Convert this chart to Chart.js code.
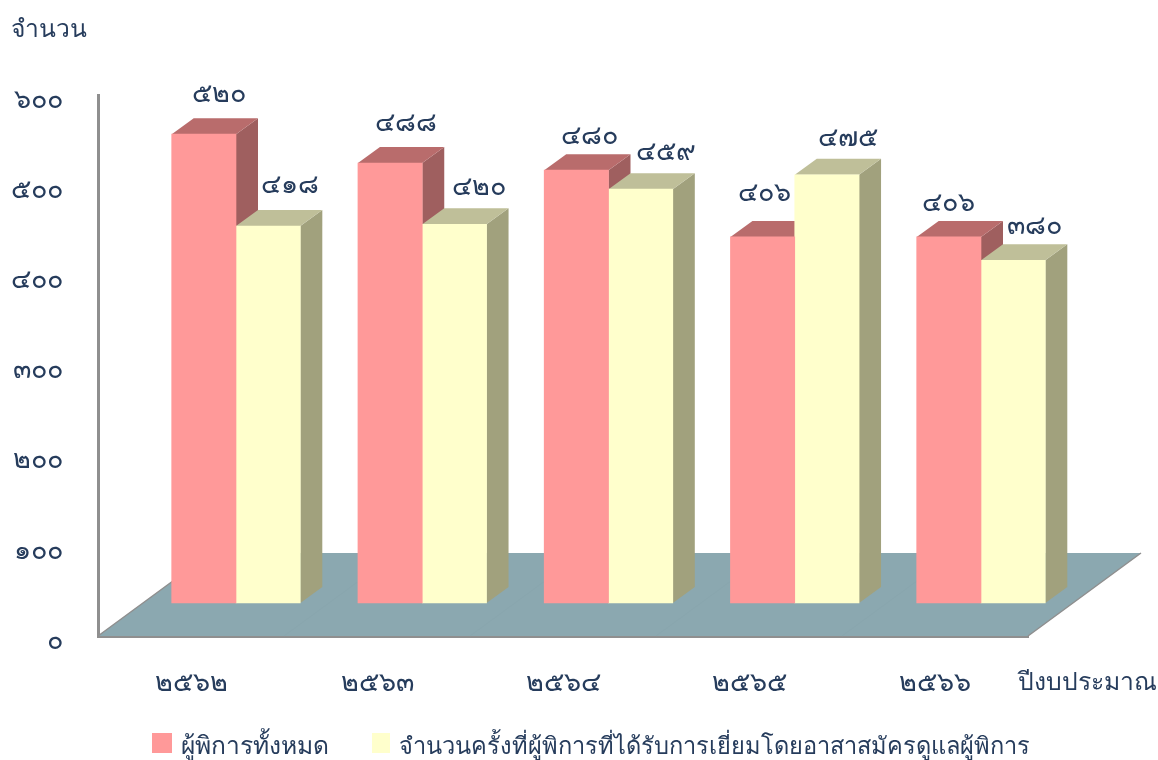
<!DOCTYPE html>
<html><head><meta charset="utf-8">
<style>html,body{margin:0;padding:0;background:#fff}#w{position:relative;width:1158px;height:760px}</style>
<script src="https://cdn.jsdelivr.net/npm/chart.js@4"></script></head>
<body><div id="w"><canvas id="c" width="1158" height="760"></canvas></div>
<script>
const categories = ['๒๕๖๒','๒๕๖๓','๒๕๖๔','๒๕๖๕','๒๕๖๖'];
const seriesNames = ['ผู้พิการทั้งหมด','จำนวนครั้งที่ผู้พิการที่ได้รับการเยี่ยมโดยอาสาสมัครดูแลผู้พิการ'];
const totalDisabled = [520,488,480,406,406];
const visitCount = [418,420,459,475,380];
const totalLabels = ['๕๒๐','๔๘๘','๔๘๐','๔๐๖','๔๐๖'];
const visitLabels = ['๔๑๘','๔๒๐','๔๕๙','๔๗๕','๓๘๐'];
const yTickLabels = ['๐','๑๐๐','๒๐๐','๓๐๐','๔๐๐','๕๐๐','๖๐๐'];
const yAxisTitle = 'จำนวน';
const xAxisTitle = 'ปีงบประมาณ';

const FONT = '"Noto Sans","DejaVu Sans",sans-serif';
const INK = '#263c5c';
const DX = 22, DY = 16;               // bar depth
const FX = 113, FY = 83;              // floor depth
const PXU = 541/600;                  // px per unit on the axis
const SHIFT = 33/PXU;                 // bars sit further back than the axis plane
const STEP = 186.25;
const XB0 = -138/STEP;
const nudges = [
  [[15,-40],[16,-40],[13,-34],[2,-44],[0,-34]],
  [[22,-41],[25,-37],[25,-37],[21,-36],[21,-34]]
];
const shades = [{top:'#b96c6c',side:'#9f5f5f',front:'#ff9999'},{top:'#bfbf99',side:'#a1a17d',front:'#ffffcc'}];
const legendLayout = [
  {box:[152,733,20,20],textX:181,size:24.6},
  {box:[372,733,18,20],textX:399,size:23.6}
];

const depth = {
  id:'depth',
  beforeDatasetsDraw(ch){
    const {ctx, scales:{x,y}} = ch;
    ctx.save();
    ctx.fillStyle = '#8ba8b0';
    ctx.beginPath();
    ctx.moveTo(x.left,y.bottom); ctx.lineTo(x.right,y.bottom);
    ctx.lineTo(x.right+FX,y.bottom-FY); ctx.lineTo(x.left+FX,y.bottom-FY);
    ctx.closePath(); ctx.fill();
    ctx.strokeStyle='#89a6ae'; ctx.lineWidth=1;
    ctx.beginPath();
    categories.forEach((c,i)=>{
      if(!i) return;
      const px=x.left+(x.right-x.left)*i/categories.length;
      ctx.moveTo(px,y.bottom); ctx.lineTo(px+FX,y.bottom-FY);
    });
    ctx.stroke();
    ctx.strokeStyle='#8f8f8f'; ctx.lineWidth=1.5;
    ctx.beginPath();
    ctx.moveTo(x.left,y.bottom); ctx.lineTo(x.left+FX,y.bottom-FY);
    ctx.moveTo(x.right,y.bottom); ctx.lineTo(x.right+FX,y.bottom-FY);
    ctx.stroke();
    [0,1].forEach(d=>{
      ch.getDatasetMeta(d).data.forEach(b=>{
        const l=b.x-b.width/2, r=b.x+b.width/2, t=b.y, B=b.base;
        ctx.fillStyle=shades[d].side;
        ctx.beginPath();
        ctx.moveTo(r,t);ctx.lineTo(r+DX,t-DY);ctx.lineTo(r+DX,B-DY);ctx.lineTo(r,B);
        ctx.closePath();ctx.fill();
        ctx.fillStyle=shades[d].top;
        ctx.beginPath();
        ctx.moveTo(l,t);ctx.lineTo(l+DX,t-DY);ctx.lineTo(r+DX,t-DY);ctx.lineTo(r,t);
        ctx.closePath();ctx.fill();
      });
    });
    ctx.restore();
  },
  afterDatasetsDraw(ch){
    const {ctx} = ch;
    ctx.save();
    ctx.fillStyle=INK; ctx.textAlign='center'; ctx.textBaseline='middle';
    ctx.font='27px '+FONT;
    [totalLabels,visitLabels].forEach((labs,d)=>{
      ch.getDatasetMeta(d).data.forEach((b,i)=>{
        ctx.fillText(labs[i], b.x+nudges[d][i][0], b.y+nudges[d][i][1]);
      });
    });
    ctx.font='24.7px '+FONT;
    ctx.textAlign='left';
    ctx.fillText(yAxisTitle,11,30);
    ctx.fillText(xAxisTitle,1018,683);
    seriesNames.forEach((n,i)=>{
      const L=legendLayout[i];
      ctx.fillStyle=shades[i].front;
      ctx.fillRect(...L.box);
      ctx.fillStyle=INK;
      ctx.font=L.size+'px '+FONT;
      ctx.fillText(n,L.textX,747);
    });
    ctx.restore();
  }
};

new Chart(document.getElementById('c'),{
  type:'bar',
  data:{labels:categories,datasets:[
    {label:seriesNames[0],data:totalDisabled.map((v,i)=>({x:i,y:v})),backgroundColor:shades[0].front,xAxisID:'xb',yAxisID:'yb',barThickness:64.3,clip:false},
    {label:seriesNames[1],data:visitCount.map((v,i)=>({x:i,y:v})),backgroundColor:shades[1].front,xAxisID:'xb',yAxisID:'yb',barThickness:64.3,clip:false}
  ]},
  options:{
    responsive:false,animation:false,
    layout:{padding:{left:0,right:130,top:95,bottom:0}},
    plugins:{tooltip:{enabled:false},legend:{display:false}},
    scales:{
      x:{type:'category',position:'bottom',
        grid:{display:false},
        border:{display:true,color:'#8f8f8f',width:3},
        afterFit(s){s.height=124;},
        ticks:{color:INK,font:{family:FONT,size:27},padding:23,maxRotation:0}},
      y:{type:'linear',position:'left',min:0,max:600,
        grid:{display:false},
        border:{display:true,color:'#8f8f8f',width:3},
        afterFit(s){s.width=98;},
        afterBuildTicks(s){s.ticks=[0,100,200,300,400,500,600].map(v=>({value:v}));},
        ticks:{color:INK,font:{family:FONT,size:27},padding:27,labelOffset:5,
          callback(v){return yTickLabels[v/100];}}},
      xb:{type:'linear',display:false,offset:false,min:XB0,max:XB0+930/STEP,grid:{display:false}},
      yb:{type:'linear',display:false,min:-SHIFT,max:600-SHIFT,grid:{display:false}}
    }
  },
  plugins:[depth]
});
</script></body></html>
